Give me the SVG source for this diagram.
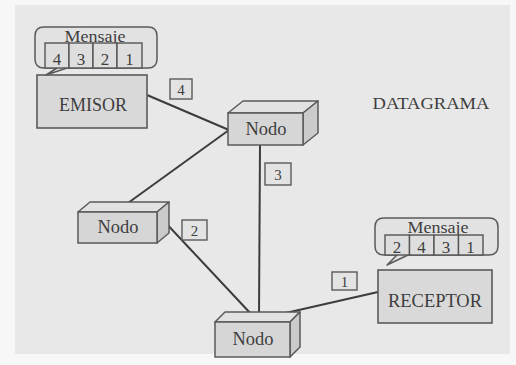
<svg xmlns="http://www.w3.org/2000/svg" width="516" height="365" viewBox="0 0 516 365">
<style>
.t{font-family:"Liberation Serif","Times New Roman",serif;fill:#3e3e3e;text-anchor:middle}
.box{fill:#d9d9d9;stroke:#5a5a5a;stroke-width:1.6}
.front{fill:#d6d6d6;stroke:#5a5a5a;stroke-width:1.5}
.top{fill:#e2e2e2;stroke:#5a5a5a;stroke-width:1.5;stroke-linejoin:round}
.side{fill:#cbcbcb;stroke:#5a5a5a;stroke-width:1.5;stroke-linejoin:round}
.lbl{fill:#e3e3e3;stroke:#5a5a5a;stroke-width:1.4}
.cell{fill:#dedede;stroke:#555;stroke-width:1.4}
.bub{fill:#e2e2e2;stroke:#5a5a5a;stroke-width:1.5;stroke-linejoin:round}
.ln{stroke:#3c3c3c;stroke-width:2;fill:none}
</style>
<rect x="0" y="0" width="516" height="365" fill="#f7f7f7"/>
<rect x="15" y="5" width="495" height="349" fill="#e8e8e8"/>
<g id="connectors">
<line class="ln" x1="147" y1="95" x2="229" y2="130"/>
<line class="ln" x1="128" y1="203" x2="229" y2="130"/>
<line class="ln" x1="163" y1="220" x2="252" y2="315"/>
<line class="ln" x1="260" y1="145" x2="259" y2="316"/>
<line class="ln" x1="378" y1="292" x2="268" y2="317"/>
</g>
<g id="label4"><rect class="lbl" x="170" y="79" width="22" height="20"/><text class="t" x="181" y="95" font-size="15">4</text></g>
<g id="label3"><rect class="lbl" x="265" y="163" width="26" height="22"/><text class="t" x="278" y="180" font-size="15">3</text></g>
<g id="label2"><rect class="lbl" x="182" y="220" width="25" height="20"/><text class="t" x="194.5" y="236" font-size="15">2</text></g>
<g id="label1"><rect class="lbl" x="332" y="272" width="25" height="18"/><text class="t" x="344.5" y="287" font-size="15">1</text></g>
<g id="emisor">
<rect class="box" x="37" y="75" width="110" height="53"/>
<text class="t" x="93" y="111" font-size="18" textLength="68" lengthAdjust="spacingAndGlyphs">EMISOR</text>
</g>
<g id="mensaje-emisor">
<path class="bub" d="M44,27 H148 Q157,27 157,36 V59 Q157,68 148,68 H67 L46,75 L57,68 H44 Q35,68 35,59 V36 Q35,27 44,27 Z"/>
<text class="t" x="95" y="42" font-size="16" textLength="61" lengthAdjust="spacingAndGlyphs">Mensaje</text>
<rect class="cell" x="45" y="43" width="24" height="25"/>
<rect class="cell" x="69" y="43" width="24" height="25"/>
<rect class="cell" x="93" y="43" width="24" height="25"/>
<rect class="cell" x="117" y="43" width="25" height="25"/>
<text class="t" x="57" y="65" font-size="17">4</text>
<text class="t" x="81" y="65" font-size="17">3</text>
<text class="t" x="105" y="65" font-size="17">2</text>
<text class="t" x="129.5" y="65" font-size="17">1</text>
</g>
<g id="nodo-top">
<polygon class="top" points="228,113 243,101 318,101 303,113"/>
<polygon class="side" points="303,113 318,101 318,133 303,145"/>
<rect class="front" x="228" y="113" width="75" height="32"/>
<text class="t" x="266" y="135" font-size="18" textLength="41" lengthAdjust="spacingAndGlyphs">Nodo</text>
</g>
<g id="nodo-left">
<polygon class="top" points="78,212 90,202 169,202 157,212"/>
<polygon class="side" points="157,212 169,202 169,233 157,243"/>
<rect class="front" x="78" y="212" width="79" height="31"/>
<text class="t" x="118" y="233" font-size="18" textLength="41" lengthAdjust="spacingAndGlyphs">Nodo</text>
</g>
<g id="nodo-bottom">
<polygon class="top" points="215,322 225,312 300,312 290,322"/>
<polygon class="side" points="290,322 300,312 300,347 290,357"/>
<rect class="front" x="215" y="322" width="75" height="35"/>
<text class="t" x="253" y="345" font-size="18" textLength="41" lengthAdjust="spacingAndGlyphs">Nodo</text>
</g>
<g id="receptor">
<rect class="box" x="378" y="270" width="114" height="53"/>
<text class="t" x="435" y="307" font-size="18" textLength="94" lengthAdjust="spacingAndGlyphs">RECEPTOR</text>
</g>
<g id="mensaje-receptor">
<path class="bub" d="M384,218 H489 Q498,218 498,227 V246 Q498,255 489,255 H408 L387,265 L397,255 H384 Q375,255 375,246 V227 Q375,218 384,218 Z"/>
<text class="t" x="438" y="233" font-size="16" textLength="61" lengthAdjust="spacingAndGlyphs">Mensaje</text>
<rect class="cell" x="385" y="235" width="24.5" height="20"/>
<rect class="cell" x="409.5" y="235" width="24.5" height="20"/>
<rect class="cell" x="434" y="235" width="24.5" height="20"/>
<rect class="cell" x="458.5" y="235" width="24.5" height="20"/>
<text class="t" x="397" y="253" font-size="17">2</text>
<text class="t" x="421.5" y="253" font-size="17">4</text>
<text class="t" x="446" y="253" font-size="17">3</text>
<text class="t" x="470.5" y="253" font-size="17">1</text>
</g>
<g id="titulo">
<text class="t" x="431" y="109" font-size="17" textLength="117" lengthAdjust="spacingAndGlyphs">DATAGRAMA</text>
</g>
</svg>
